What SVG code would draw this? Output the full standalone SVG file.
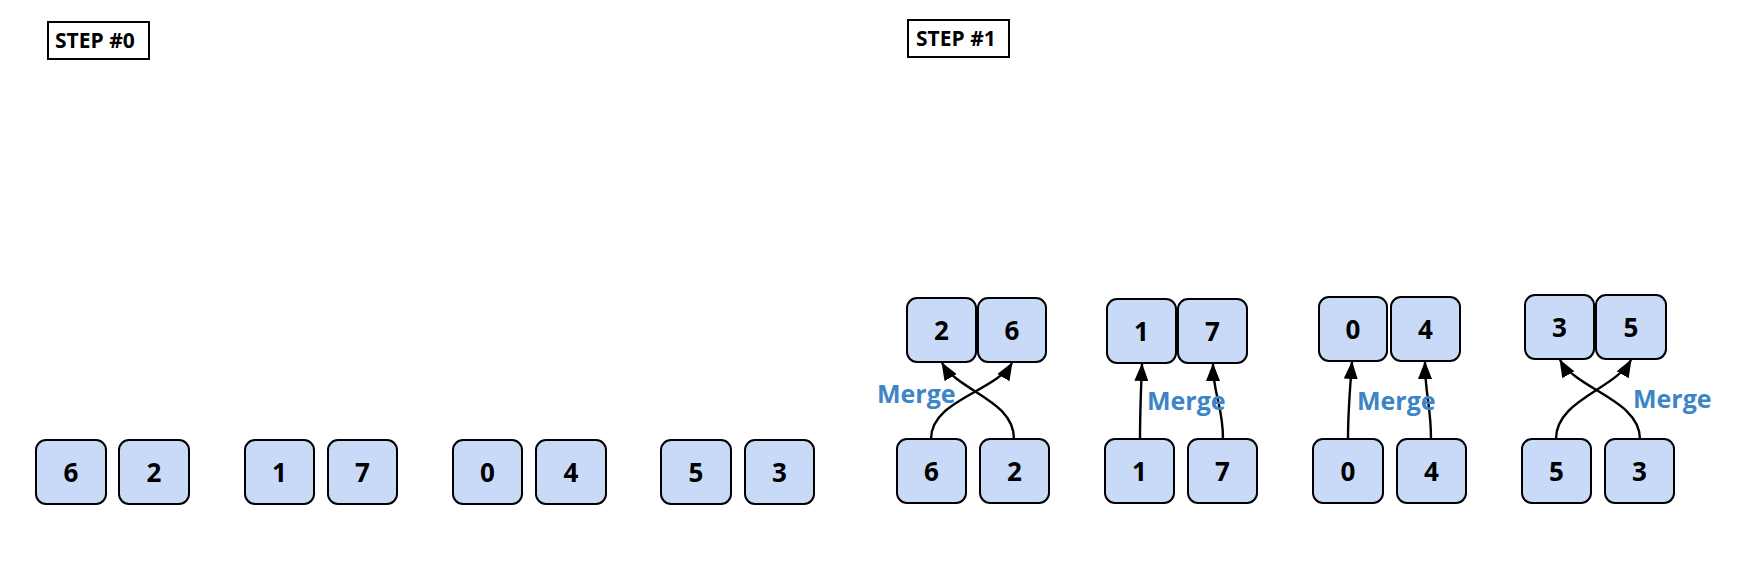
<svg xmlns="http://www.w3.org/2000/svg" width="1742" height="566" viewBox="0 0 1742 566">
<style>
.bx{fill:#c9daf8;stroke:#000;stroke-width:2}
.num{font-family:"Open Sans","DejaVu Sans",sans-serif;font-weight:bold;font-size:26px;fill:#000;text-anchor:middle}
.step{fill:#fff;stroke:#000;stroke-width:2}
.stept{font-family:"Open Sans","DejaVu Sans",sans-serif;font-weight:bold;font-size:21px;fill:#000}
.merge{font-family:"Open Sans","DejaVu Sans",sans-serif;font-weight:bold;font-size:25px;fill:#3d85c6}
.ar{fill:none;stroke:#000;stroke-width:2.4;marker-end:url(#ah)}
</style>
<defs>
<marker id="ah" markerWidth="18" markerHeight="14" refX="17" refY="7" orient="auto" markerUnits="userSpaceOnUse"><path d="M0,0 L18,7 L0,14 z" fill="#000"/></marker>
</defs>
<rect width="1742" height="566" fill="#fff"/>
<g id="step0-label"><rect class="step" x="48" y="22" width="101" height="37"/><text class="stept" x="55" y="48">STEP #0</text></g>
<g id="step1-label"><rect class="step" x="908" y="20" width="101" height="37"/><text class="stept" x="916" y="46">STEP #1</text></g>

<g id="s0-6"><rect class="bx" x="36" y="440" width="70" height="64" rx="10"/><text class="num" x="71" y="482">6</text></g>
<g id="s0-2"><rect class="bx" x="119" y="440" width="70" height="64" rx="10"/><text class="num" x="154" y="482">2</text></g>
<g id="s0-1"><rect class="bx" x="245" y="440" width="69" height="64" rx="10"/><text class="num" x="279.5" y="482">1</text></g>
<g id="s0-7"><rect class="bx" x="328" y="440" width="69" height="64" rx="10"/><text class="num" x="362.5" y="482">7</text></g>
<g id="s0-0"><rect class="bx" x="453" y="440" width="69" height="64" rx="10"/><text class="num" x="487.5" y="482">0</text></g>
<g id="s0-4"><rect class="bx" x="536" y="440" width="70" height="64" rx="10"/><text class="num" x="571" y="482">4</text></g>
<g id="s0-5"><rect class="bx" x="661" y="440" width="70" height="64" rx="10"/><text class="num" x="696" y="482">5</text></g>
<g id="s0-3"><rect class="bx" x="745" y="440" width="69" height="64" rx="10"/><text class="num" x="779.5" y="482">3</text></g>

<g id="s1b-6"><rect class="bx" x="897" y="439" width="69" height="64" rx="10"/><text class="num" x="931.5" y="481">6</text></g>
<g id="s1b-2"><rect class="bx" x="980" y="439" width="69" height="64" rx="10"/><text class="num" x="1014.5" y="481">2</text></g>
<g id="s1b-1"><rect class="bx" x="1105" y="439" width="69" height="64" rx="10"/><text class="num" x="1139.5" y="481">1</text></g>
<g id="s1b-7"><rect class="bx" x="1188" y="439" width="69" height="64" rx="10"/><text class="num" x="1222.5" y="481">7</text></g>
<g id="s1b-0"><rect class="bx" x="1313" y="439" width="70" height="64" rx="10"/><text class="num" x="1348" y="481">0</text></g>
<g id="s1b-4"><rect class="bx" x="1397" y="439" width="69" height="64" rx="10"/><text class="num" x="1431.5" y="481">4</text></g>
<g id="s1b-5"><rect class="bx" x="1522" y="439" width="69" height="64" rx="10"/><text class="num" x="1556.5" y="481">5</text></g>
<g id="s1b-3"><rect class="bx" x="1605" y="439" width="69" height="64" rx="10"/><text class="num" x="1639.5" y="481">3</text></g>

<g id="s1t-2"><rect class="bx" x="907" y="298" width="69" height="64" rx="10"/><text class="num" x="941.5" y="340">2</text></g>
<g id="s1t-6"><rect class="bx" x="978" y="298" width="68" height="64" rx="10"/><text class="num" x="1012" y="340">6</text></g>
<g id="s1t-1"><rect class="bx" x="1107" y="299" width="69" height="64" rx="10"/><text class="num" x="1141.5" y="341">1</text></g>
<g id="s1t-7"><rect class="bx" x="1178" y="299" width="69" height="64" rx="10"/><text class="num" x="1212.5" y="341">7</text></g>
<g id="s1t-0"><rect class="bx" x="1319" y="297" width="68" height="64" rx="10"/><text class="num" x="1353" y="339">0</text></g>
<g id="s1t-4"><rect class="bx" x="1391" y="297" width="69" height="64" rx="10"/><text class="num" x="1425.5" y="339">4</text></g>
<g id="s1t-3"><rect class="bx" x="1525" y="295" width="69" height="64" rx="10"/><text class="num" x="1559.5" y="337">3</text></g>
<g id="s1t-5"><rect class="bx" x="1596" y="295" width="70" height="64" rx="10"/><text class="num" x="1631" y="337">5</text></g>

<g id="connectors">
<path class="ar" d="M931,439 C931,400 995,392 1012,363"/>
<path class="ar" d="M1014,439 C1014,400 959,392 942,363"/>
<path class="ar" d="M1140,439 C1140,410 1141,390 1142,364"/>
<path class="ar" d="M1223,439 C1223,405 1213,395 1213,364"/>
<path class="ar" d="M1348,439 C1348,410 1350,390 1352,362"/>
<path class="ar" d="M1431,439 C1431,405 1425,395 1425,362"/>
<path class="ar" d="M1556,439 C1556,400 1614,390 1631,360"/>
<path class="ar" d="M1640,439 C1640,400 1577,390 1560,360"/>
</g>

<g id="labels">
<text class="merge" x="877" y="403">Merge</text>
<text class="merge" x="1147" y="410">Merge</text>
<text class="merge" x="1357" y="410">Merge</text>
<text class="merge" x="1633" y="408">Merge</text>
</g>
</svg>
